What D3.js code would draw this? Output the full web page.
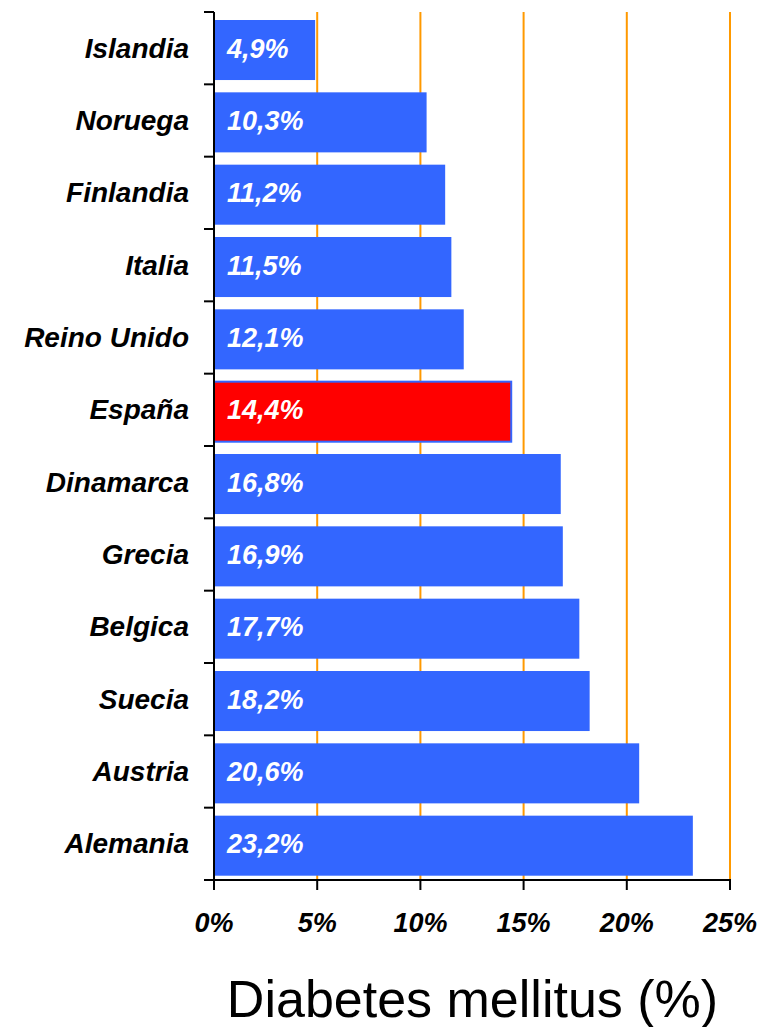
<!DOCTYPE html>
<html>
<head>
<meta charset="utf-8">
<script src="https://cdn.jsdelivr.net/npm/d3@7"></script>
<style>
  html, body { margin: 0; padding: 0; background: #fff; }
  svg { display: block; }
</style>
</head>
<body>
<svg id="chart" width="763" height="1027"></svg>
<script>
const categories = ["Islandia","Noruega","Finlandia","Italia","Reino Unido","España","Dinamarca","Grecia","Belgica","Suecia","Austria","Alemania"];
const values = [4.9, 10.3, 11.2, 11.5, 12.1, 14.4, 16.8, 16.9, 17.7, 18.2, 20.6, 23.2];
const valueLabels = ["4,9%","10,3%","11,2%","11,5%","12,1%","14,4%","16,8%","16,9%","17,7%","18,2%","20,6%","23,2%"];
const highlight = ["España"];
const xTicks = [0, 5, 10, 15, 20, 25];
const xTickLabels = ["0%","5%","10%","15%","20%","25%"];
const axisTitle = "Diabetes mellitus (%)";

(function () {
const svg = d3.select("#chart");
const pLeft = 214, pRight = 730, pTop = 12, pBottom = 880;

const x = d3.scaleLinear().domain([0, 25]).range([pLeft, pRight]);
const y = d3.scaleBand().domain(categories).range([pTop, pBottom]).padding(0);

const font = "'Liberation Sans', Arial, sans-serif";

// gridlines
svg.append("g").selectAll("line").data(xTicks.filter(t => t > 0)).join("line")
  .attr("x1", d => x(d)).attr("x2", d => x(d))
  .attr("y1", pTop).attr("y2", pBottom)
  .attr("stroke", "#FF9900").attr("stroke-width", 2);

// bars
const step = y.step();
svg.append("g").selectAll("rect").data(categories).join("rect")
  .attr("x", x(0))
  .attr("y", d => y(d) + 8)
  .attr("width", (d, i) => x(values[i]) - x(0))
  .attr("height", step - 12.3)
  .attr("fill", d => highlight.includes(d) ? "#FF0000" : "#3366FF")
  .attr("stroke", d => highlight.includes(d) ? "#3366FF" : "none")
  .attr("stroke-width", 2);

// value labels
svg.append("g").selectAll("text").data(categories).join("text")
  .attr("x", x(0) + 13)
  .attr("y", d => y(d) + step / 2 + 9.5)
  .attr("fill", "#fff")
  .attr("font-family", font)
  .attr("font-size", 27)
  .attr("font-weight", "bold")
  .attr("font-style", "italic")
  .text((d, i) => valueLabels[i]);

// y axis
const yAxis = svg.append("g");
yAxis.append("line")
  .attr("x1", pLeft).attr("x2", pLeft).attr("y1", pTop).attr("y2", pBottom)
  .attr("stroke", "#000").attr("stroke-width", 2);
const boundaries = categories.map(c => y(c)).concat([pBottom]);
yAxis.selectAll("line.tick").data(boundaries).join("line").attr("class", "tick")
  .attr("x1", pLeft - 10).attr("x2", pLeft)
  .attr("y1", d => d).attr("y2", d => d)
  .attr("stroke", "#000").attr("stroke-width", 2);
yAxis.selectAll("text").data(categories).join("text")
  .attr("x", 189)
  .attr("y", d => y(d) + step / 2 + 9.5)
  .attr("text-anchor", "end")
  .attr("fill", "#000")
  .attr("font-family", font)
  .attr("font-size", 28)
  .attr("font-weight", "bold")
  .attr("font-style", "italic")
  .text(d => d);

// x axis
const xAxis = svg.append("g");
xAxis.append("line")
  .attr("x1", pLeft).attr("x2", pRight + 1).attr("y1", pBottom).attr("y2", pBottom)
  .attr("stroke", "#000").attr("stroke-width", 2);
xAxis.selectAll("line.tick").data(xTicks).join("line").attr("class", "tick")
  .attr("x1", d => x(d)).attr("x2", d => x(d))
  .attr("y1", pBottom).attr("y2", pBottom + 10)
  .attr("stroke", "#000").attr("stroke-width", 2);
xAxis.selectAll("text").data(xTicks).join("text")
  .attr("x", d => x(d))
  .attr("y", 932)
  .attr("text-anchor", "middle")
  .attr("fill", "#000")
  .attr("font-family", font)
  .attr("font-size", 27)
  .attr("font-weight", "bold")
  .attr("font-style", "italic")
  .text((d, i) => xTickLabels[i]);

svg.append("text")
  .attr("x", 472.5)
  .attr("y", 1017)
  .attr("text-anchor", "middle")
  .attr("fill", "#000")
  .attr("font-family", font)
  .attr("font-size", 52)
  .text(axisTitle);
})();
</script>
</body>
</html>
